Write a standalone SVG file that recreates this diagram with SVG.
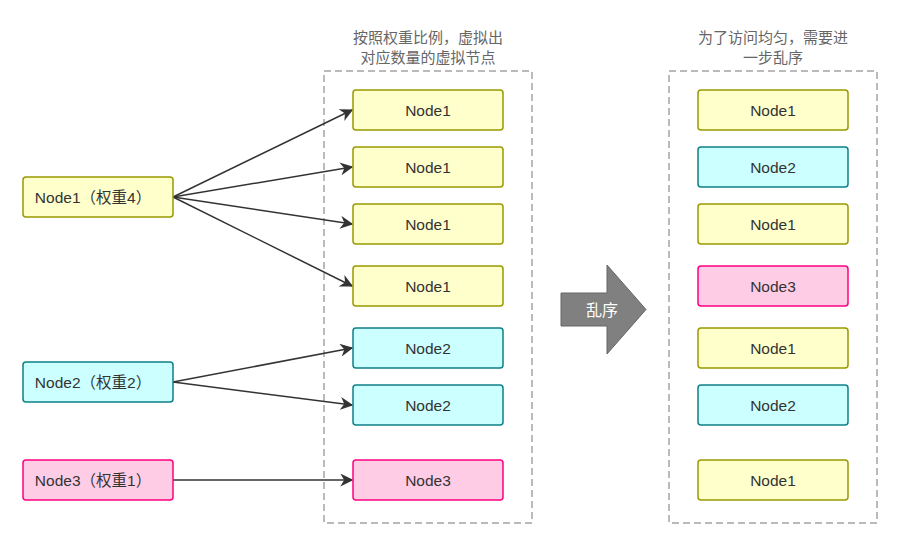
<svg xmlns="http://www.w3.org/2000/svg" width="900" height="548" viewBox="0 0 900 548">
<defs>
<style>
.y{fill:#ffffcc;stroke:#999900;stroke-width:1.5}
.c{fill:#ccffff;stroke:#0e8088;stroke-width:1.5}
.p{fill:#ffcce6;stroke:#ff0080;stroke-width:1.5}
.t{font-family:"Liberation Sans","Noto Sans CJK SC",sans-serif;font-size:15.5px;fill:#333;text-anchor:middle;dominant-baseline:central}
.h{font-family:"Liberation Sans","Noto Sans CJK SC",sans-serif;font-size:15px;fill:#666;text-anchor:middle}
.box{fill:none;stroke:#777;stroke-width:1;stroke-dasharray:7 4}
.e{stroke:#333;stroke-width:1.5;fill:none;marker-end:url(#a)}
</style>
<marker id="a" viewBox="0 0 10 10" refX="9" refY="5" markerWidth="13" markerHeight="13" markerUnits="userSpaceOnUse" orient="auto">
<path d="M0,0 L10,5 L0,10 L3,5 Z" fill="#333"/>
</marker>
</defs>
<rect width="900" height="548" fill="#fff"/>
<rect class="box" x="324" y="71" width="208" height="452"/>
<rect class="box" x="669" y="71" width="208" height="452"/>
<text class="h" x="428" y="43">按照权重比例，虚拟出</text>
<text class="h" x="428" y="63">对应数量的虚拟节点</text>
<text class="h" x="773" y="43">为了访问均匀，需要进</text>
<text class="h" x="773" y="63">一步乱序</text>
<g id="connectors">
<path class="e" d="M173,197 L352,110"/>
<path class="e" d="M173,197 L352,167"/>
<path class="e" d="M173,197 L352,224"/>
<path class="e" d="M173,197 L352,286"/>
<path class="e" d="M173,382 L352,348"/>
<path class="e" d="M173,382 L352,405"/>
<path class="e" d="M173,480 L352,480"/>
</g>
<g id="left1"><rect class="y" x="23" y="177" width="150" height="40" rx="3"/><text class="t" x="93" y="197">Node1（权重4）</text></g>
<g id="left2"><rect class="c" x="23" y="362" width="150" height="40" rx="3"/><text class="t" x="93" y="382">Node2（权重2）</text></g>
<g id="left3"><rect class="p" x="23" y="460" width="150" height="40" rx="3"/><text class="t" x="93" y="480">Node3（权重1）</text></g>
<g id="m1"><rect class="y" x="353" y="90" width="150" height="40" rx="3"/><text class="t" x="428" y="110">Node1</text></g>
<g id="m2"><rect class="y" x="353" y="147" width="150" height="40" rx="3"/><text class="t" x="428" y="167">Node1</text></g>
<g id="m3"><rect class="y" x="353" y="204" width="150" height="40" rx="3"/><text class="t" x="428" y="224">Node1</text></g>
<g id="m4"><rect class="y" x="353" y="266" width="150" height="40" rx="3"/><text class="t" x="428" y="286">Node1</text></g>
<g id="m5"><rect class="c" x="353" y="328" width="150" height="40" rx="3"/><text class="t" x="428" y="348">Node2</text></g>
<g id="m6"><rect class="c" x="353" y="385" width="150" height="40" rx="3"/><text class="t" x="428" y="405">Node2</text></g>
<g id="m7"><rect class="p" x="353" y="460" width="150" height="40" rx="3"/><text class="t" x="428" y="480">Node3</text></g>
<g id="shuffle"><path d="M561,293 L607,293 L607,265 L646,309.5 L607,354 L607,326 L561,326 Z" fill="#808080" stroke="#666" stroke-width="1"/><text x="602" y="316" font-family="'Noto Sans CJK SC',sans-serif" font-size="16" fill="#fff" text-anchor="middle">乱序</text></g>
<g id="r1"><rect class="y" x="698" y="90" width="150" height="40" rx="3"/><text class="t" x="773" y="110">Node1</text></g>
<g id="r2"><rect class="c" x="698" y="147" width="150" height="40" rx="3"/><text class="t" x="773" y="167">Node2</text></g>
<g id="r3"><rect class="y" x="698" y="204" width="150" height="40" rx="3"/><text class="t" x="773" y="224">Node1</text></g>
<g id="r4"><rect class="p" x="698" y="266" width="150" height="40" rx="3"/><text class="t" x="773" y="286">Node3</text></g>
<g id="r5"><rect class="y" x="698" y="328" width="150" height="40" rx="3"/><text class="t" x="773" y="348">Node1</text></g>
<g id="r6"><rect class="c" x="698" y="385" width="150" height="40" rx="3"/><text class="t" x="773" y="405">Node2</text></g>
<g id="r7"><rect class="y" x="698" y="460" width="150" height="40" rx="3"/><text class="t" x="773" y="480">Node1</text></g>
</svg>
